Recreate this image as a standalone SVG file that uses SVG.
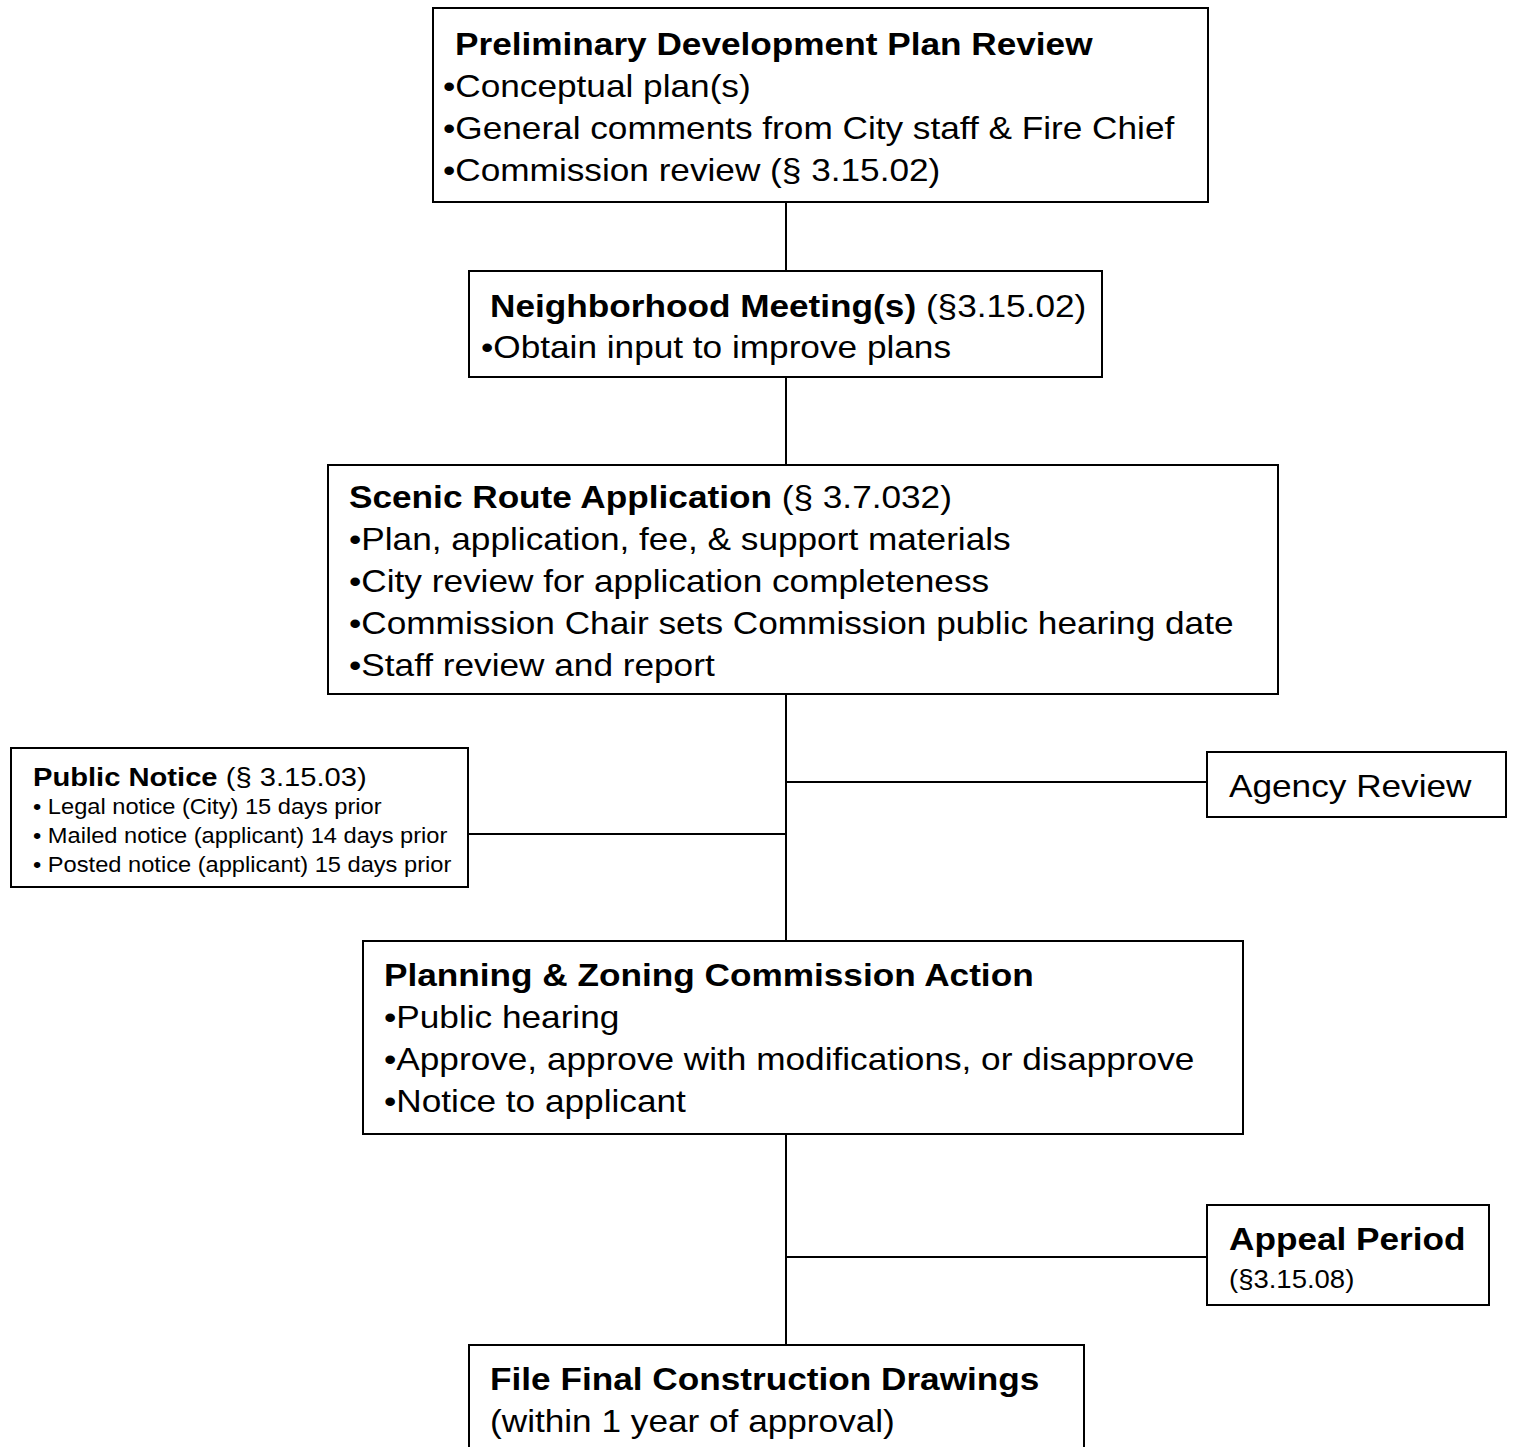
<svg xmlns="http://www.w3.org/2000/svg" width="1514" height="1447" viewBox="0 0 1514 1447">
<style>
.box{fill:#fff;stroke:#000;stroke-width:2}
.t{font-family:"Liberation Sans",Arial,sans-serif;font-size:32px;fill:#000}
.b{font-weight:bold}
.pt{font-size:26.5px}
.s{font-family:"Liberation Sans",Arial,sans-serif;font-size:21.5px;fill:#000}
.ap{font-size:25px}
.conn{stroke:#000;stroke-width:2;fill:none}
</style>
<rect width="1514" height="1447" fill="#fff"/>
<g id="connectors">
<path class="conn" d="M786 202V271M786 377V465M786 694V941M786 1134V1345M786 782H1207M468 834H786M786 1257H1207"/>
</g>
<g id="n1">
<rect class="box" x="433" y="8" width="775" height="194"/>
<text class="t b" transform="matrix(1.1 0 0 1 455 0)" y="55">Preliminary Development Plan Review</text>
<text class="t" transform="matrix(1.1 0 0 1 443 0)" y="97">•Conceptual plan(s)</text>
<text class="t" transform="matrix(1.1 0 0 1 443 0)" y="139">•General comments from City staff &amp; Fire Chief</text>
<text class="t" transform="matrix(1.1 0 0 1 443 0)" y="181">•Commission review (§ 3.15.02)</text>
</g>
<g id="n2">
<rect class="box" x="469" y="271" width="633" height="106"/>
<text class="t" transform="matrix(1.1 0 0 1 490 0)" y="317"><tspan class="b">Neighborhood Meeting(s)</tspan> (§3.15.02)</text>
<text class="t" transform="matrix(1.1 0 0 1 481 0)" y="358">•Obtain input to improve plans</text>
</g>
<g id="n3">
<rect class="box" x="328" y="465" width="950" height="229"/>
<text class="t" transform="matrix(1.1 0 0 1 349 0)" y="508"><tspan class="b">Scenic Route Application</tspan> (§ 3.7.032)</text>
<text class="t" transform="matrix(1.1 0 0 1 349 0)" y="550">•Plan, application, fee, &amp; support materials</text>
<text class="t" transform="matrix(1.1 0 0 1 349 0)" y="592">•City review for application completeness</text>
<text class="t" transform="matrix(1.1 0 0 1 349 0)" y="634">•Commission Chair sets Commission public hearing date</text>
<text class="t" transform="matrix(1.1 0 0 1 349 0)" y="676">•Staff review and report</text>
</g>
<g id="n4">
<rect class="box" x="11" y="748" width="457" height="139"/>
<text class="t pt" transform="matrix(1.1 0 0 1 33 0)" y="786"><tspan class="b">Public Notice</tspan> (§ 3.15.03)</text>
<text class="s" transform="matrix(1.1 0 0 1 33 0)" y="814">• Legal notice (City) 15 days prior</text>
<text class="s" transform="matrix(1.1 0 0 1 33 0)" y="843">• Mailed notice (applicant) 14 days prior</text>
<text class="s" transform="matrix(1.1 0 0 1 33 0)" y="872">• Posted notice (applicant) 15 days prior</text>
</g>
<g id="n5">
<rect class="box" x="1207" y="752" width="299" height="65"/>
<text class="t" transform="matrix(1.1 0 0 1 1229 0)" y="797">Agency Review</text>
</g>
<g id="n6">
<rect class="box" x="363" y="941" width="880" height="193"/>
<text class="t b" transform="matrix(1.1 0 0 1 384 0)" y="986">Planning &amp; Zoning Commission Action</text>
<text class="t" transform="matrix(1.1 0 0 1 384 0)" y="1028">•Public hearing</text>
<text class="t" transform="matrix(1.1 0 0 1 384 0)" y="1070">•Approve, approve with modifications, or disapprove</text>
<text class="t" transform="matrix(1.1 0 0 1 384 0)" y="1112">•Notice to applicant</text>
</g>
<g id="n7">
<rect class="box" x="1207" y="1205" width="282" height="100"/>
<text class="t b" transform="matrix(1.1 0 0 1 1229 0)" y="1250">Appeal Period</text>
<text class="t ap" transform="matrix(1.1 0 0 1 1229 0)" y="1288">(§3.15.08)</text>
</g>
<g id="n8">
<rect class="box" x="469" y="1345" width="615" height="120"/>
<text class="t b" transform="matrix(1.1 0 0 1 490 0)" y="1390">File Final Construction Drawings</text>
<text class="t" transform="matrix(1.1 0 0 1 490 0)" y="1432">(within 1 year of approval)</text>
</g>
</svg>
